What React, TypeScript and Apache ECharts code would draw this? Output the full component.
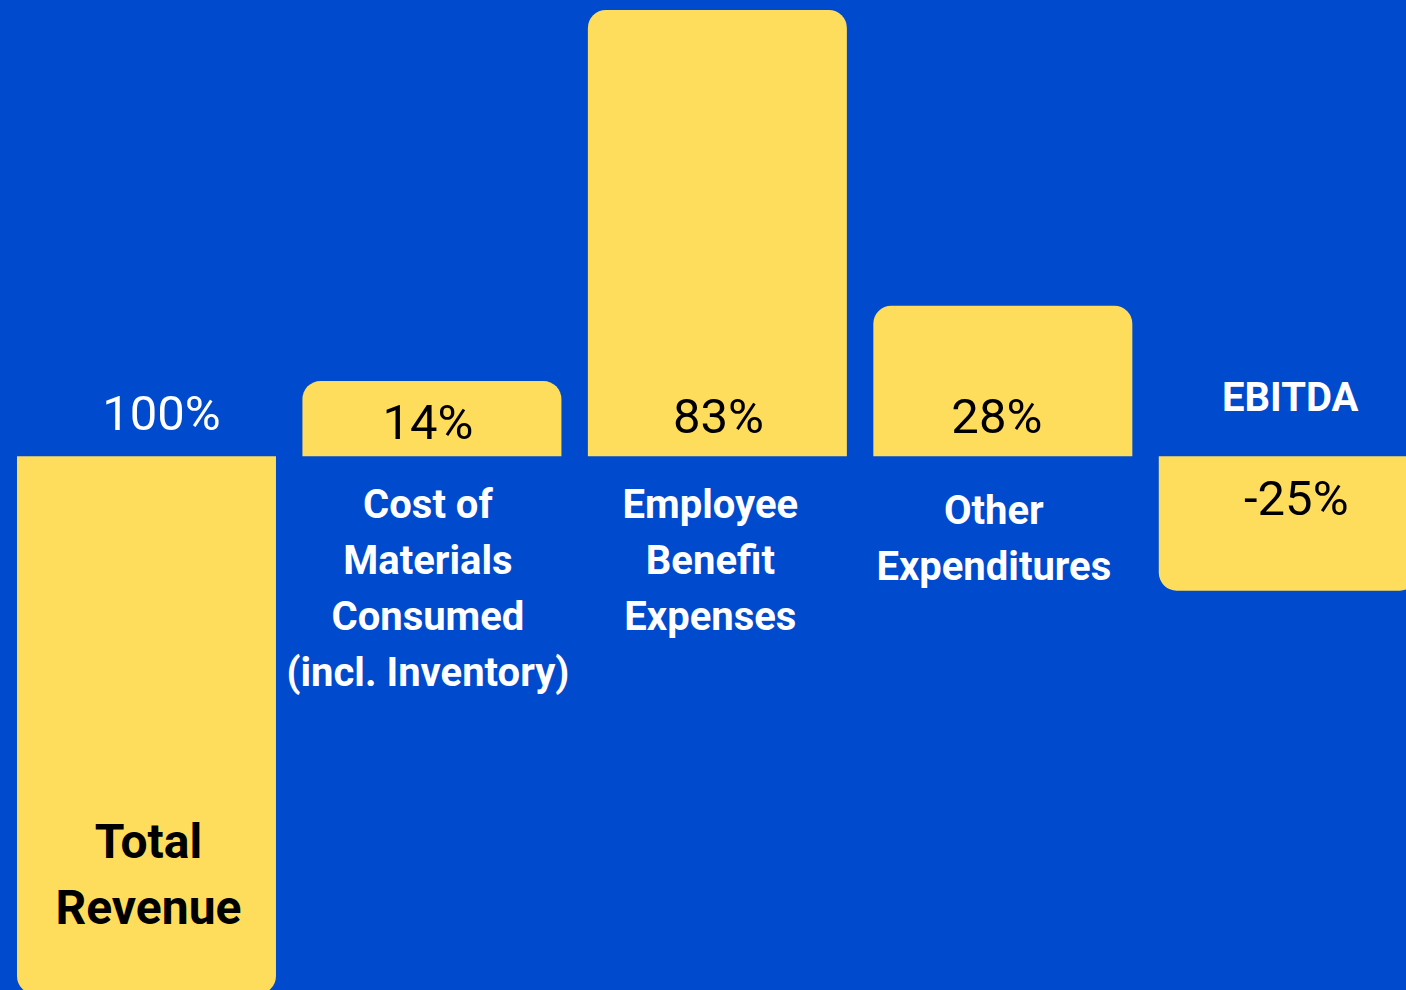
import React, { useEffect, useRef } from "react";
import * as echarts from "echarts";

const categories = [
  "Total\nRevenue",
  "Cost of\nMaterials\nConsumed\n(incl. Inventory)",
  "Employee\nBenefit\nExpenses",
  "Other\nExpenditures",
  "EBITDA",
];
// signed bar heights as drawn (revenue and EBITDA hang below the baseline)
const barValues = [-100, 14, 83, 28, -25];
const valueLabels = ["100%", "14%", "83%", "28%", "-25%"];

const BLUE = "#004ACD";
const YELLOW = "#FFDD5C";

export default function App() {
  const ref = useRef<HTMLDivElement>(null);
  useEffect(() => {
    if (!ref.current) return;
    const chart = echarts.init(ref.current, null, { renderer: "svg" });
    const R = 18;
    const valueLabelCfg = [
      { position: "top", distance: 18, color: "#ffffff", offset: [15, 0] },
      { position: "insideBottom", distance: 9, color: "#000000", offset: [-4, 0] },
      { position: "insideBottom", distance: 15, color: "#000000", offset: [1, 0] },
      { position: "insideBottom", distance: 15, color: "#000000", offset: [-6, 0] },
      { position: "insideTop", distance: 18, color: "#000000", offset: [8, 0] },
    ];
    const nameLabelCfg = [
      { position: "insideBottom", distance: 54, color: "#000000", fontSize: 48, lineHeight: 66, offset: [2, 0] },
      { position: "bottom", distance: 20, color: "#ffffff", fontSize: 40, lineHeight: 56, offset: [-4, 0] },
      { position: "bottom", distance: 20, color: "#ffffff", fontSize: 40, lineHeight: 56, offset: [-7, 0] },
      { position: "bottom", distance: 26, color: "#ffffff", fontSize: 40, lineHeight: 56, offset: [-9, 0] },
      { position: "top", distance: 37, color: "#ffffff", fontSize: 40, lineHeight: 44, offset: [2, 0] },
    ];
    chart.setOption({
      animation: false,
      backgroundColor: BLUE,
      textStyle: { fontFamily: "Roboto" },
      grid: {
        left: 3.75,
        right: 0,
        top: 10,
        bottom: 0,
        containLabel: false,
        outerBoundsMode: "none",
      },
      xAxis: {
        type: "category",
        data: categories,
        axisLine: { show: false },
        axisTick: { show: false },
        axisLabel: { show: false },
        splitLine: { show: false },
      },
      yAxis: {
        type: "value",
        min: -100,
        max: 83,
        show: false,
        splitLine: { show: false },
      },
      series: [
        {
          type: "bar",
          barWidth: 259,
          barGap: "-100%",
          data: barValues.map((v, i) => ({
            value: v,
            itemStyle: {
              color: YELLOW,
              borderRadius: v >= 0 ? [R, R, 0, 0] : [0, 0, R, R],
            },
            label: {
              show: true,
              formatter: valueLabels[i],
              position: valueLabelCfg[i].position,
              distance: valueLabelCfg[i].distance,
              offset: valueLabelCfg[i].offset,
              color: valueLabelCfg[i].color,
              fontSize: 49,
              fontWeight: 400,
              fontFamily: "Roboto",
            },
          })),
        },
        {
          type: "bar",
          barWidth: 259,
          barGap: "-100%",
          silent: true,
          data: barValues.map((v, i) => ({
            value: v,
            itemStyle: { color: "rgba(0,0,0,0)" },
            label: {
              show: true,
              formatter: categories[i],
              position: nameLabelCfg[i].position,
              distance: nameLabelCfg[i].distance,
              offset: nameLabelCfg[i].offset,
              color: nameLabelCfg[i].color,
              fontSize: nameLabelCfg[i].fontSize,
              lineHeight: nameLabelCfg[i].lineHeight,
              fontWeight: "bold",
              fontFamily: "Roboto",
              align: "center",
            },
          })),
        },
      ],
    });
    return () => chart.dispose();
  }, []);
  return (
    <div style={{ position: "fixed", left: 0, top: 0, width: 1406, height: 990, overflow: "hidden" }}>
      <div ref={ref} style={{ width: 1431.25, height: 994 }} />
    </div>
  );
}
